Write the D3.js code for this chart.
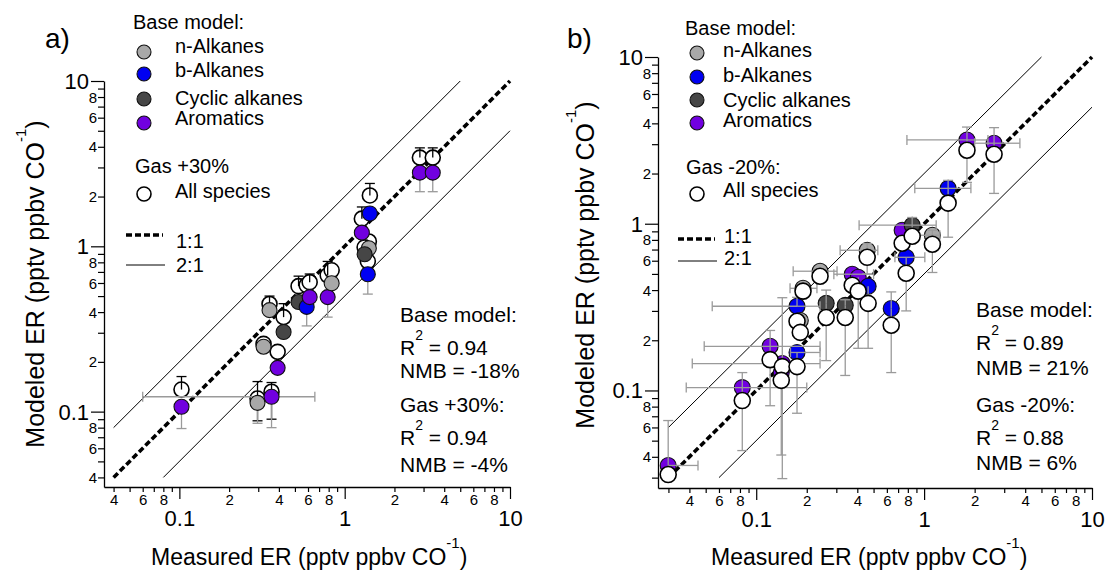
<!DOCTYPE html>
<html>
<head>
<meta charset="utf-8">
<script src="https://cdn.jsdelivr.net/npm/d3@7"></script>
<style>
  body { margin: 0; background: #fff; }
  svg { display: block; font-family: "Liberation Sans", Arial, sans-serif; }
</style>
</head>
<body>
<div id="chart"></div>
<script>
const W = 1109, H = 578;

const groupKeys = ['n', 'b', 'c', 'a'];
const groupNames = ['n-Alkanes', 'b-Alkanes', 'Cyclic alkanes', 'Aromatics'];
const groupColors = { n: '#a8a8a8', b: '#0000f2', c: '#464646', a: '#7100e0' };

// tick layout: every 1..9 multiple of these decades, labels only on 2,4,6,8 and the decades
const decades = [0.01, 0.1, 1, 10];
const multiples = [1, 2, 3, 4, 5, 6, 7, 8, 9];
const labelledMinor = [2, 4, 6, 8];

// ---- panel a: base model vs gas +30% ----
const aGroup    = ['a', 'n', 'a', 'a', 'n', 'c', 'n', 'c', 'b', 'a', 'a', 'n', 'a', 'b', 'n', 'c', 'b', 'a', 'a'];
const aMeasured = [0.103, 0.297, 0.361, 0.393, 0.323, 0.427, 0.351, 0.526, 0.589, 0.614, 0.789, 0.834, 1.27, 1.42, 1.40, 1.32, 1.38, 2.85, 3.41];
const aBase     = [0.107, 0.113, 0.123, 0.184, 0.247, 0.303, 0.411, 0.46, 0.43, 0.493, 0.493, 0.598, 1.21, 1.58, 0.973, 0.895, 0.678, 2.79, 2.79];
const aGas      = [0.136, 0.120, 0.132, 0.23, 0.257, 0.373, 0.448, 0.574, 0.582, 0.607, 0.668, 0.716, 1.47, 2.03, 1.07, 0.986, 0.812, 3.44, 3.44];
const aBaseLo   = [0.079, 0.085, 0.08, null, null, null, null, null, 0.33, null, 0.373, null, null, null, null, null, 0.514, 2.14, 2.14];
const aGasHi    = [0.163, 0.152, 0.15, null, null, 0.45, 0.5, 0.66, null, 0.68, 0.81, null, 1.73, 2.4, null, null, null, 3.94, 3.94];
const aGasLo    = [null, 0.088, 0.09, null, null, null, null, null, null, null, null, null, null, null, null, null, null, null, null];
const aXLo      = [null, null, 0.06, null, null, null, null, null, null, null, null, null, null, null, null, null, null, null, null];
const aXHi      = [null, null, 0.66, null, null, null, null, null, null, null, null, null, null, null, null, null, null, null, null];

// ---- panel b: base model vs gas -20% ----
const bGroup    = ['a', 'a', 'a', 'a', 'a', 'b', 'b', 'n', 'n', 'n', 'c', 'c', 'a', 'a', 'b', 'n', 'b', 'b', 'a', 'c', 'n', 'b', 'a', 'a'];
const bMeasured = [0.0299, 0.0826, 0.121, 0.143, 0.141, 0.175, 0.175, 0.183, 0.19, 0.24, 0.261, 0.339, 0.373, 0.405, 0.464, 0.458, 0.637, 0.782, 0.74, 0.849, 1.12, 1.39, 1.80, 2.61];
const bBase     = [0.0355, 0.104, 0.184, 0.145, 0.128, 0.169, 0.32, 0.263, 0.41, 0.519, 0.333, 0.324, 0.498, 0.478, 0.422, 0.693, 0.31, 0.629, 0.914, 0.98, 0.853, 1.63, 3.18, 3.04];
const bGas      = [0.0313, 0.087, 0.153, 0.139, 0.115, 0.139, 0.26, 0.223, 0.394, 0.484, 0.274, 0.274, 0.428, 0.394, 0.333, 0.629, 0.246, 0.505, 0.764, 0.841, 0.753, 1.33, 2.76, 2.61];
const bYHi      = [0.066, 0.128, 0.229, 0.36, null, null, 0.362, null, null, null, 0.40, 0.35, null, null, null, 0.76, 0.39, null, null, 1.09, 0.914, 1.82, 3.8, 3.77];
const bYLo      = [null, 0.0436, 0.081, 0.0296, 0.041, 0.073, null, null, null, null, 0.151, 0.123, null, 0.179, 0.179, 0.5, 0.128, 0.3, null, 0.80, 0.51, 0.83, 1.77, 1.52];
const bXLo      = [null, 0.0383, 0.049, 0.0416, null, 0.16, 0.0547, null, 0.159, 0.166, null, null, 0.29, null, null, 0.316, null, 0.67, null, 0.41, 0.91, 0.88, 0.79, 2.0];
const bXHi      = [0.045, 0.2, 0.24, 0.24, null, 0.24, 0.24, null, 0.23, 0.303, null, null, 0.5, null, null, 0.53, null, 1.01, null, 1.18, 1.24, 1.9, 2.4, 3.72];

// reference lines (value space): 1:1 and 2:1 / 1:2
const aRefStart = [0.04, 0.04, 0.08];   // x where 1:1, 2:1 upper, 2:1 lower start
const bRefStart = [0.03, 0.03, 0.06];

const svg = d3.select('#chart').append('svg')
    .attr('width', W)
    .attr('height', H)
    .attr('viewBox', `0 0 ${W} ${H}`);

function isMajor(v) {
    const l = Math.log10(v);
    return Math.abs(l - Math.round(l)) < 1e-6;
}
function mantissa(v) {
    return Math.round(v / Math.pow(10, Math.floor(Math.log10(v) + 1e-9)));
}
function tickLabel(v) {
    if (isMajor(v)) return String(+v.toPrecision(1));
    return labelledMinor.includes(mantissa(v)) ? String(mantissa(v)) : '';
}

function superText(g, x, y, main, sup, tail, size, supSize, anchor, transform) {
    const t = g.append('text')
        .attr('x', x).attr('y', y)
        .attr('text-anchor', anchor || 'start')
        .style('font-size', size + 'px');
    if (transform) t.attr('transform', transform);
    t.append('tspan').text(main);
    t.append('tspan').attr('dy', -size * 0.72).style('font-size', supSize + 'px').text(sup);
    t.append('tspan').attr('dy', size * 0.72).text(tail);
    return t;
}

function drawPanel(cfg) {
    const g = svg.append('g');
    const x = d3.scaleLog().domain(cfg.domain).range(cfg.xRange);
    const y = d3.scaleLog().domain(cfg.domain).range(cfg.yRange);

    const ticks = [];
    decades.forEach(d => multiples.forEach(m => {
        const v = +(d * m).toPrecision(3);
        if (v >= cfg.domain[0] * 0.999 && v <= cfg.domain[1] * 1.001) ticks.push(v);
    }));

    // reference lines
    const lim = cfg.domain[1];
    const line = (x0, y0, x1, y1) => g.append('line')
        .attr('x1', x(x0)).attr('y1', y(y0)).attr('x2', x(x1)).attr('y2', y(y1))
        .attr('stroke', '#000');
    line(cfg.refStart[1], cfg.refStart[1] * 2, lim / 2, lim).attr('stroke-width', 1);
    line(cfg.refStart[2], cfg.refStart[2] / 2, lim, lim / 2).attr('stroke-width', 1);
    line(cfg.refStart[0], cfg.refStart[0], lim, lim)
        .attr('stroke-width', 3.6).attr('stroke-dasharray', '6,3');

    const n = cfg.measured.length;
    const idx = d3.range(n);
    const cap = 5;

    const vbar = (layer, xi, y0, y1, color) => {
        layer.append('line').attr('x1', xi).attr('x2', xi).attr('y1', y0).attr('y2', y1)
            .attr('stroke', color).attr('stroke-width', 1.3);
        layer.append('line').attr('x1', xi - cap).attr('x2', xi + cap).attr('y1', y1).attr('y2', y1)
            .attr('stroke', color).attr('stroke-width', 1.3);
    };
    const hbar = (layer, yi, x0, x1, color) => {
        layer.append('line').attr('x1', x0).attr('x2', x1).attr('y1', yi).attr('y2', yi)
            .attr('stroke', color).attr('stroke-width', 1.3);
        layer.append('line').attr('x1', x1).attr('x2', x1).attr('y1', yi - cap).attr('y2', yi + cap)
            .attr('stroke', color).attr('stroke-width', 1.3);
    };

    const gasLayer = () => g.append('g').selectAll('circle')
        .data(idx).enter().append('circle')
        .attr('cx', i => x(cfg.measured[i]))
        .attr('cy', i => y(cfg.gas[i]))
        .attr('r', cfg.r)
        .attr('fill', '#fff')
        .attr('stroke', '#000')
        .attr('stroke-width', 1.6);

    const baseLayer = () => g.append('g').selectAll('circle')
        .data(idx).enter().append('circle')
        .attr('cx', i => x(cfg.measured[i]))
        .attr('cy', i => y(cfg.base[i]))
        .attr('r', cfg.r)
        .attr('fill', i => groupColors[cfg.group[i]])
        .attr('stroke', '#111')
        .attr('stroke-width', 1.1);

    const errLayer = () => {
        const e = g.append('g');
        idx.forEach(i => {
            const xi = x(cfg.measured[i]), yi = y(cfg.base[i]);
            if (cfg.yLo && cfg.yLo[i]) vbar(e, xi, yi, y(cfg.yLo[i]), '#9a9a9a');
            if (cfg.yHi && cfg.yHi[i]) vbar(e, xi, yi, y(cfg.yHi[i]), '#9a9a9a');
            if (cfg.xLo && cfg.xLo[i]) hbar(e, yi, xi, x(cfg.xLo[i]), '#9a9a9a');
            if (cfg.xHi && cfg.xHi[i]) hbar(e, yi, xi, x(cfg.xHi[i]), '#9a9a9a');
        });
        return e;
    };

    if (cfg.whiteOnTop) {
        baseLayer();
        errLayer();
        gasLayer();
    } else {
        gasLayer();
        const e = g.append('g');
        idx.forEach(i => {
            const xi = x(cfg.measured[i]), yg = y(cfg.gas[i]);
            if (cfg.gasHi[i]) vbar(e, xi, yg, y(cfg.gasHi[i]), '#000');
            if (cfg.gasLo[i]) vbar(e, xi, yg, y(cfg.gasLo[i]), '#000');
        });
        errLayer();
        baseLayer();
    }

    // axes
    const xAxis = g.append('g')
        .attr('transform', `translate(0,${cfg.yRange[0]})`)
        .call(d3.axisBottom(x).tickValues(ticks).tickFormat(tickLabel).tickSize(5).tickSizeOuter(0));
    xAxis.selectAll('.tick').each(function (d) {
        const s = d3.select(this);
        const major = isMajor(d);
        s.select('line').attr('y2', major ? 12 : 5).attr('stroke-width', 1.2);
        s.select('text').attr('dy', null)
            .attr('y', major ? 39 : 18)
            .attr('fill', '#000')
            .style('font-size', major ? '22px' : '15px')
            .style('font-family', '"Liberation Sans", Arial, sans-serif');
    });

    const yAxis = g.append('g')
        .attr('transform', `translate(${cfg.xRange[0]},0)`)
        .call(d3.axisLeft(y).tickValues(ticks).tickFormat(tickLabel).tickSize(6).tickSizeOuter(0));
    yAxis.selectAll('.tick').each(function (d) {
        const s = d3.select(this);
        const major = isMajor(d);
        s.select('line').attr('x2', major ? -13 : -6).attr('stroke-width', 1.2);
        s.select('text')
            .attr('x', major ? -15 : -7)
            .attr('dy', '0.34em')
            .attr('fill', '#000')
            .style('font-size', major ? '22px' : '15px')
            .style('font-family', '"Liberation Sans", Arial, sans-serif');
    });
    [xAxis, yAxis].forEach(a => a.select('.domain').attr('stroke-width', 1.3));

    // titles
    superText(g, cfg.xTitle[0], cfg.xTitle[1], 'Measured ER (pptv ppbv CO', '-1', ')', 23, 15, 'start');
    superText(g, 0, 0, 'Modeled ER (pptv ppbv CO', '-1', ')', 25, 15, 'middle',
        `translate(${cfg.yTitle[0]},${cfg.yTitle[1]}) rotate(-90)`);
    g.append('text').attr('x', cfg.tag[0]).attr('y', cfg.tag[1])
        .style('font-size', '28px').text(cfg.tag[2]);

    // legend
    const L = cfg.legend;
    const lt = (tx, ty, s, size) => g.append('text').attr('x', tx).attr('y', ty)
        .style('font-size', (size || 20) + 'px').text(s);
    lt(L.title[0], L.title[1], 'Base model:');
    groupKeys.forEach((k, j) => {
        g.append('circle').attr('cx', L.cx).attr('cy', L.cy[j]).attr('r', 7)
            .attr('fill', groupColors[k]).attr('stroke', '#111').attr('stroke-width', 1.1);
        lt(L.tx, L.ty[j], groupNames[j]);
    });
    lt(L.gas[0], L.gas[1], L.gas[2]);
    g.append('circle').attr('cx', L.cx).attr('cy', L.all[0]).attr('r', 7)
        .attr('fill', '#fff').attr('stroke', '#000').attr('stroke-width', 1.6);
    lt(L.tx, L.all[1], 'All species');
    g.append('line').attr('x1', L.lx[0]).attr('x2', L.lx[1]).attr('y1', L.one[0]).attr('y2', L.one[0])
        .attr('stroke', '#000').attr('stroke-width', 3.6).attr('stroke-dasharray', '6,3');
    lt(L.lt, L.one[1], '1:1');
    g.append('line').attr('x1', L.lx[0]).attr('x2', L.lx[1] + 2).attr('y1', L.two[0]).attr('y2', L.two[0])
        .attr('stroke', '#000').attr('stroke-width', 1);
    lt(L.lt, L.two[1], '2:1');

    // statistics
    const S = cfg.stats;
    lt(S.x, S.y[0], 'Base model:', 21);
    superText(g, S.x, S.y[1], 'R', '2', ' = ' + S.r2[0], 21, 14, 'start');
    lt(S.x, S.y[2], 'NMB = ' + S.nmb[0], 21);
    lt(S.x, S.y[3], S.gasLabel, 21);
    superText(g, S.x, S.y[4], 'R', '2', ' = ' + S.r2[1], 21, 14, 'start');
    lt(S.x, S.y[5], 'NMB = ' + S.nmb[1], 21);
}

drawPanel({
    domain: [0.035, 10], xRange: [104, 510], yRange: [487, 81], r: 7.5,
    group: aGroup, measured: aMeasured, base: aBase, gas: aGas,
    yLo: aBaseLo, xLo: aXLo, xHi: aXHi, gasHi: aGasHi, gasLo: aGasLo,
    whiteOnTop: false, refStart: aRefStart,
    xTitle: [151, 565], yTitle: [44, 284], tag: [45, 48, 'a)'],
    legend: {
        title: [133, 29], cx: 144, cy: [52, 74, 99, 123], tx: 175, ty: [53, 77, 105, 125],
        gas: [135, 173, 'Gas +30%'], all: [194, 198], lx: [126, 163], lt: 176,
        one: [235, 248], two: [265, 272]
    },
    stats: { x: 400, y: [322, 355, 378, 412, 445, 472], r2: ['0.94', '0.94'], nmb: ['-18%', '-4%'], gasLabel: 'Gas +30%:' }
});

drawPanel({
    domain: [0.026, 10], xRange: [658, 1092], yRange: [488, 57], r: 8,
    group: bGroup, measured: bMeasured, base: bBase, gas: bGas,
    yLo: bYLo, yHi: bYHi, xLo: bXLo, xHi: bXHi,
    whiteOnTop: true, refStart: bRefStart,
    xTitle: [711, 565], yTitle: [594, 265], tag: [567, 48, 'b)'],
    legend: {
        title: [685, 35], cx: 697, cy: [53, 77, 100, 123], tx: 723, ty: [57, 82, 107, 127],
        gas: [686, 174, 'Gas -20%:'], all: [194, 197], lx: [678, 715], lt: 724,
        one: [239, 243], two: [261, 265]
    },
    stats: { x: 976, y: [317, 350, 375, 412, 445, 470], r2: ['0.89', '0.88'], nmb: ['21%', '6%'], gasLabel: 'Gas -20%:' }
});
</script>
</body>
</html>
